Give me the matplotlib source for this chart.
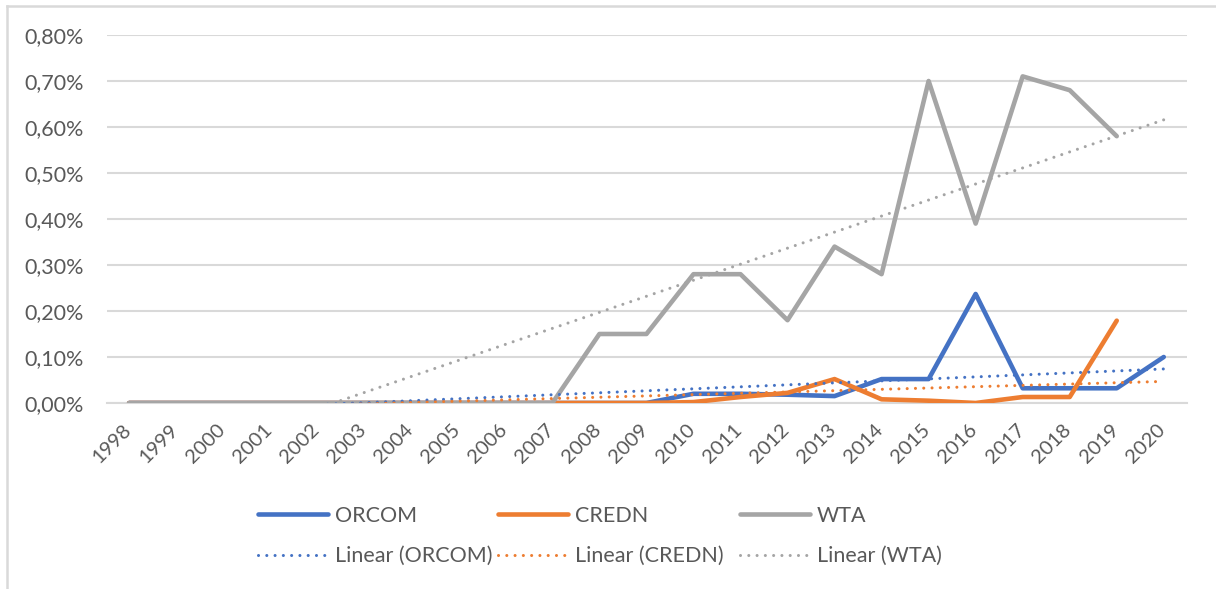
import numpy as np
import matplotlib
matplotlib.use('Agg')
import matplotlib.pyplot as plt
from matplotlib.lines import Line2D
from matplotlib.ticker import FuncFormatter, MultipleLocator
import matplotlib.transforms as mtransforms

plt.rcParams['font.family'] = ['Lato', 'DejaVu Sans']

# Data (percent values)
years = [str(y) for y in range(1998, 2021)]
orcom = [0, 0, 0, 0, 0, 0, 0, 0, 0, 0, 0, 0,
         0.020, 0.020, 0.018, 0.015, 0.052, 0.052, 0.237, 0.032, 0.032, 0.032, 0.100]
credn = [0, 0, 0, 0, 0, 0, 0, 0, 0, 0, 0, 0,
         0.002, 0.013, 0.022, 0.052, 0.008, 0.005, 0.0, 0.013, 0.013, 0.179, np.nan]
wta = [0, 0, 0, 0, 0, 0, 0, 0, 0, 0, 0.15, 0.15,
       0.28, 0.28, 0.18, 0.34, 0.28, 0.70, 0.39, 0.71, 0.68, 0.58, np.nan]

series = [('ORCOM', orcom, '#4472C4'),
          ('CREDN', credn, '#ED7D31'),
          ('WTA', wta, '#A5A5A5')]

text_col = '#595959'
grid_col = '#D9D9D9'
fs = 15.5
dots = (0, (0.01, 2.7))

fig = plt.figure(figsize=(12.16, 5.89), dpi=100)
ax = fig.add_axes([0.088, 0.3158, 0.888, 0.6248])

x = np.arange(len(years))

# actual series
for name, vals, col in series:
    ax.plot(x, vals, color=col, lw=3.3, solid_joinstyle='round',
            solid_capstyle='round', zorder=3)

# linear trendlines (least squares over available points, like Excel)
for name, vals, col in series:
    v = np.array(vals, dtype=float)
    m = ~np.isnan(v)
    k, b = np.polyfit(x[m], v[m], 1)
    ax.plot(x, k * x + b, color=col, lw=2.2, linestyle=dots,
            dash_capstyle='round', zorder=4)

ax.set_xlim(-0.47, 22.49)
ax.set_ylim(0, 0.8)
ax.yaxis.set_major_locator(MultipleLocator(0.1))
ax.yaxis.set_major_formatter(FuncFormatter(lambda v, p: f'{v:.2f}%'.replace('.', ',')))
ax.grid(axis='y', color=grid_col, lw=1.5)
ax.set_axisbelow(True)
for s in ax.spines.values():
    s.set_visible(False)
ax.spines['bottom'].set_visible(True)
ax.spines['bottom'].set_color(grid_col)
ax.spines['bottom'].set_linewidth(1.5)

ax.set_xticks(x)
ax.set_xticklabels(years, rotation=45, ha='right', va='top')
ax.tick_params(axis='both', length=0, labelsize=fs, colors=text_col)
ax.tick_params(axis='x', labelsize=14.5, pad=13)
ax.tick_params(axis='y', pad=17)
offset = mtransforms.ScaledTranslation(5 / 100, 0, fig.dpi_scale_trans)
for lab in ax.get_xticklabels():
    lab.set_transform(lab.get_transform() + offset)

# legend: one small legend per column (series on top, trendline below)
col_x = [258, 498, 740]
for (name, vals, col), cx in zip(series, col_x):
    h = [Line2D([], [], color=col, lw=3.3, solid_capstyle='round'),
         Line2D([], [], color=col, lw=2.2, linestyle=dots, dash_capstyle='round')]
    leg = fig.legend(h, [name, f'Linear ({name})'], loc='center left',
                     bbox_to_anchor=(cx / 1216, 1 - 536 / 589), frameon=False,
                     fontsize=fs, handlelength=3.25, handletextpad=0.33,
                     labelspacing=0.95, borderpad=0, borderaxespad=0)
    for t in leg.get_texts():
        t.set_color(text_col)

# chart frame (top and left edges visible)
fig.add_artist(Line2D([7 / 1216, 1], [1 - 6 / 589, 1 - 6 / 589],
                      color=grid_col, lw=1.8, transform=fig.transFigure))
fig.add_artist(Line2D([7 / 1216, 7 / 1216], [0, 1 - 6 / 589],
                      color=grid_col, lw=1.8, transform=fig.transFigure))

fig.savefig('out.png', dpi=100)
